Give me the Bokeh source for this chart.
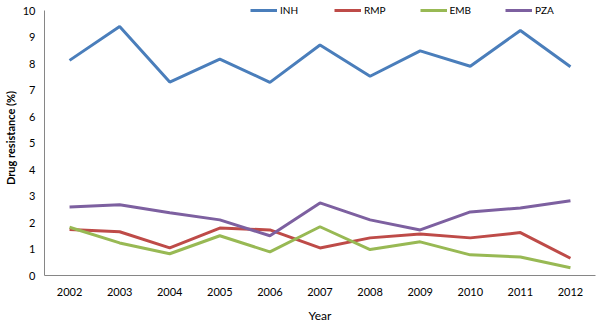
from bokeh.plotting import figure
from bokeh.models import Range1d, FactorRange, Legend, LegendItem, ColumnDataSource
from bokeh.embed import file_html
from bokeh.resources import INLINE

years = ["2002", "2003", "2004", "2005", "2006", "2007", "2008", "2009", "2010", "2011", "2012"]
inh = [8.12, 9.40, 7.30, 8.17, 7.29, 8.70, 7.52, 8.48, 7.90, 9.25, 7.88]
rmp = [1.74, 1.65, 1.04, 1.79, 1.72, 1.04, 1.42, 1.57, 1.42, 1.62, 0.65]
emb = [1.82, 1.23, 0.82, 1.50, 0.89, 1.84, 0.98, 1.27, 0.78, 0.70, 0.29]
pza = [2.59, 2.67, 2.37, 2.10, 1.50, 2.74, 2.10, 1.72, 2.40, 2.55, 2.82]

names = ["INH", "RMP", "EMB", "PZA"]
series = [inh, rmp, emb, pza]
colors = ["#4A7EBB", "#BE4B48", "#98B954", "#7D60A0"]

FONT = "Lato"

# frame spans canvas rows 0..275; value 10 sits at row ~10
p = figure(width=600, height=327, x_range=FactorRange(*years), y_range=Range1d(0, 10.38),
           output_backend="svg", toolbar_location=None,
           min_border_left=44, min_border_right=5, min_border_top=0, min_border_bottom=52)
p.outline_line_color = None
p.xgrid.visible = False
p.ygrid.visible = False
p.background_fill_color = "white"
p.border_fill_color = "white"

items = []
for name, vals, c in zip(names, series, colors):
    src = ColumnDataSource(dict(x=years, y=vals))
    r = p.line("x", "y", source=src, line_color=c, line_width=3)
    items.append(LegendItem(label=name, renderers=[r]))

for ax in (p.xaxis[0], p.yaxis[0]):
    ax.axis_line_color = "#868686"
    ax.major_tick_line_color = None
    ax.minor_tick_line_color = None
    ax.major_tick_out = 0
    ax.major_tick_in = 0
    ax.minor_tick_out = 0
    ax.minor_tick_in = 0
    ax.major_label_text_font = FONT
    ax.major_label_text_font_size = "11px"
    ax.major_label_text_color = "#000000"
    ax.axis_label_text_font = FONT
    ax.axis_label_text_color = "#000000"

p.yaxis.ticker = list(range(0, 11))
p.yaxis.bounds = (0, 10)
p.yaxis.major_label_standoff = 9
p.yaxis.axis_label = "Drug resistance (%)"
p.yaxis.axis_label_text_font_style = "bold"
p.yaxis.axis_label_text_font_size = "11px"
p.yaxis.axis_label_standoff = 3

p.xaxis.major_label_standoff = 12
p.xaxis.axis_label = "Year"
p.xaxis.axis_label_text_font_style = "normal"
p.xaxis.axis_label_text_font_size = "12px"
p.xaxis.axis_label_standoff = 9

legend = Legend(items=items, orientation="horizontal", location=(206, 259),
                border_line_color=None, background_fill_alpha=0,
                padding=0, margin=0, spacing=34, label_standoff=3,
                glyph_width=27, glyph_height=12, label_height=12,
                label_text_font=FONT, label_text_font_size="10px", label_text_color="#000000")
p.add_layout(legend, "center")

open("out.html", "w").write(file_html(p, INLINE))
